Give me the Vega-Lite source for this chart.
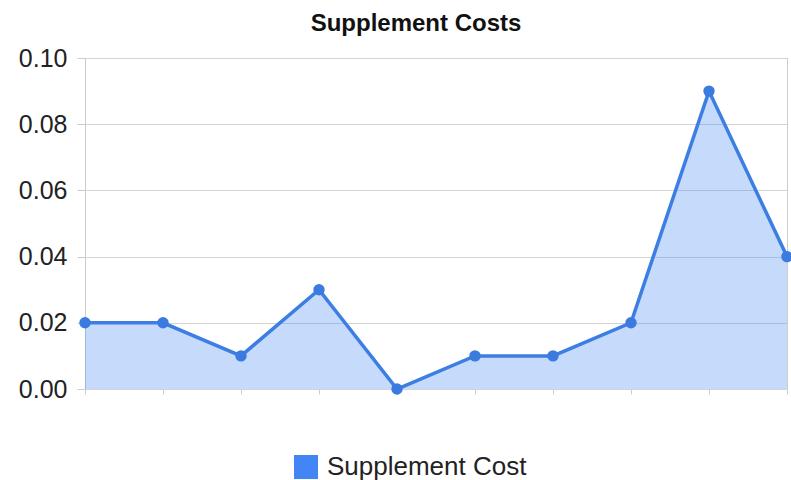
{
  "$schema": "https://vega.github.io/schema/vega-lite/v6.json",
  "width": 702,
  "height": 331,
  "autosize": "none",
  "padding": {"left": 85, "top": 58, "right": 4, "bottom": 91},
  "background": "white",
  "config": {
    "view": {"stroke": "#cccccc", "strokeWidth": 1},
    "font": "Liberation Sans"
  },
  "title": {
    "text": "Supplement Costs",
    "font": "Liberation Sans",
    "fontSize": 24,
    "fontWeight": "bold",
    "color": "#111111",
    "dx": -20,
    "offset": 10
  },
  "data": {
    "values": [
      {"i": 1, "cost": 0.02, "series": "Supplement Cost"},
      {"i": 2, "cost": 0.02, "series": "Supplement Cost"},
      {"i": 3, "cost": 0.01, "series": "Supplement Cost"},
      {"i": 4, "cost": 0.03, "series": "Supplement Cost"},
      {"i": 5, "cost": 0.00, "series": "Supplement Cost"},
      {"i": 6, "cost": 0.01, "series": "Supplement Cost"},
      {"i": 7, "cost": 0.01, "series": "Supplement Cost"},
      {"i": 8, "cost": 0.02, "series": "Supplement Cost"},
      {"i": 9, "cost": 0.09, "series": "Supplement Cost"},
      {"i": 10, "cost": 0.04, "series": "Supplement Cost"}
    ]
  },
  "encoding": {
    "x": {
      "field": "i",
      "type": "ordinal",
      "scale": {"type": "point", "padding": 0},
      "axis": {
        "labels": false,
        "title": null,
        "domain": false,
        "grid": false,
        "ticks": true,
        "tickColor": "#cccccc",
        "tickSize": 5
      }
    },
    "y": {
      "field": "cost",
      "type": "quantitative",
      "scale": {"domain": [0, 0.1], "nice": false},
      "axis": {
        "values": [0, 0.02, 0.04, 0.06, 0.08, 0.1],
        "format": ".2f",
        "title": null,
        "domain": false,
        "grid": true,
        "gridColor": "#d4d4d4",
        "tickColor": "#cccccc",
        "tickSize": 8,
        "labelPadding": 10,
        "labelFontSize": 25,
        "labelColor": "#222222",
        "labelFont": "Liberation Sans"
      }
    }
  },
  "layer": [
    {
      "mark": {"type": "area", "fillOpacity": 0.3},
      "encoding": {
        "color": {
          "field": "series",
          "type": "nominal",
          "scale": {"range": ["#4285f4"]},
          "legend": {
            "title": null,
            "orient": "none",
            "legendX": 208,
            "legendY": 396,
            "symbolType": "square",
            "symbolSize": 576,
            "symbolOpacity": 1,
            "symbolStrokeWidth": 0,
            "labelFontSize": 26,
            "labelLimit": 0,
            "labelColor": "#222222",
            "labelFont": "Liberation Sans",
            "labelOffset": 8
          }
        }
      }
    },
    {
      "mark": {"type": "line", "color": "#3d7ee2", "strokeWidth": 3.5},
      "encoding": {}
    },
    {
      "mark": {"type": "point", "filled": true, "color": "#3b7be0", "size": 130, "opacity": 1},
      "encoding": {}
    }
  ]
}
